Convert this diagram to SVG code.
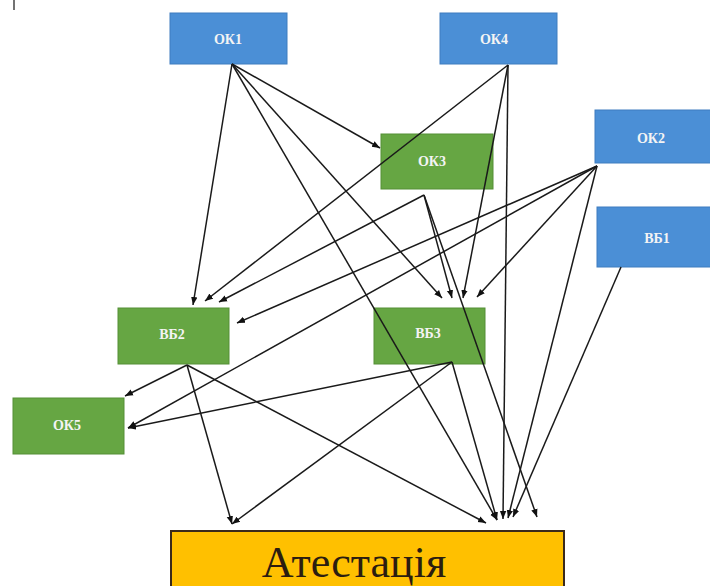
<svg xmlns="http://www.w3.org/2000/svg" width="710" height="586" viewBox="0 0 710 586">
<style>
.blue{fill:#4b8fd6;stroke:#3f7cbf;stroke-width:1}
.green{fill:#66a643;stroke:#548f36;stroke-width:1}
.lbl{font-family:"Liberation Serif","DejaVu Serif",serif;font-weight:bold;font-size:14px;fill:#f4f4f4;text-anchor:middle}
.c line{stroke:#1a1a1a;stroke-width:1.5;marker-end:url(#ah)}
</style>
<defs>
<marker id="ah" markerUnits="userSpaceOnUse" markerWidth="8" markerHeight="8" viewBox="0 0 8 8" refX="8" refY="4" orient="auto">
<path d="M0,0.8 L8,4 L0,7.2 Z" fill="#111"/>
</marker>
</defs>
<rect width="710" height="586" fill="#ffffff"/>
<line x1="14" y1="0" x2="14" y2="10" stroke="#444" stroke-width="1.5"/>
<g id="OK1"><rect class="blue" x="170" y="13" width="117" height="51"/><text class="lbl" x="228" y="44">ОК1</text></g>
<g id="OK4"><rect class="blue" x="440" y="13" width="117" height="51"/><text class="lbl" x="494" y="44">ОК4</text></g>
<g id="OK3"><rect class="green" x="381" y="134" width="112" height="55"/><text class="lbl" x="432" y="166">ОК3</text></g>
<g id="OK2"><rect class="blue" x="595" y="110" width="116" height="53"/><text class="lbl" x="651" y="143">ОК2</text></g>
<g id="VB1"><rect class="blue" x="597" y="207" width="114" height="60"/><text class="lbl" x="657" y="243">ВБ1</text></g>
<g id="VB2"><rect class="green" x="118" y="308" width="111" height="56"/><text class="lbl" x="172" y="339">ВБ2</text></g>
<g id="VB3"><rect class="green" x="374" y="308" width="111" height="56"/><text class="lbl" x="428" y="338">ВБ3</text></g>
<g id="OK5"><rect class="green" x="13" y="398" width="111" height="56"/><text class="lbl" x="67" y="430">ОК5</text></g>
<g id="Atest"><rect x="171" y="531" width="393" height="58" fill="#ffc000" stroke="#3b2a1b" stroke-width="2"/><text x="354" y="577" font-family="'Liberation Serif','DejaVu Serif',serif" font-size="44" fill="#2b1d10" text-anchor="middle">Атестація</text></g>
<g id="connectors" class="c">
<line x1="232" y1="64" x2="193" y2="305"/>
<line x1="232" y1="64" x2="380" y2="148"/>
<line x1="232" y1="64" x2="442" y2="298"/>
<line x1="232" y1="64" x2="497" y2="520"/>
<line x1="508" y1="65" x2="205" y2="301"/>
<line x1="508" y1="65" x2="463" y2="298"/>
<line x1="508" y1="65" x2="503" y2="519"/>
<line x1="597" y1="166" x2="237" y2="323"/>
<line x1="597" y1="166" x2="128" y2="428"/>
<line x1="597" y1="166" x2="477" y2="297"/>
<line x1="597" y1="166" x2="508" y2="518"/>
<line x1="424" y1="195" x2="219" y2="302"/>
<line x1="424" y1="195" x2="452" y2="298"/>
<line x1="424" y1="195" x2="537" y2="517"/>
<line x1="621" y1="267" x2="513" y2="517"/>
<line x1="187" y1="365" x2="125" y2="396"/>
<line x1="187" y1="365" x2="232" y2="524"/>
<line x1="187" y1="365" x2="486" y2="523"/>
<line x1="452" y1="362" x2="128" y2="428"/>
<line x1="452" y1="362" x2="232" y2="524"/>
<line x1="452" y1="362" x2="497" y2="520"/>
</g>
</svg>
